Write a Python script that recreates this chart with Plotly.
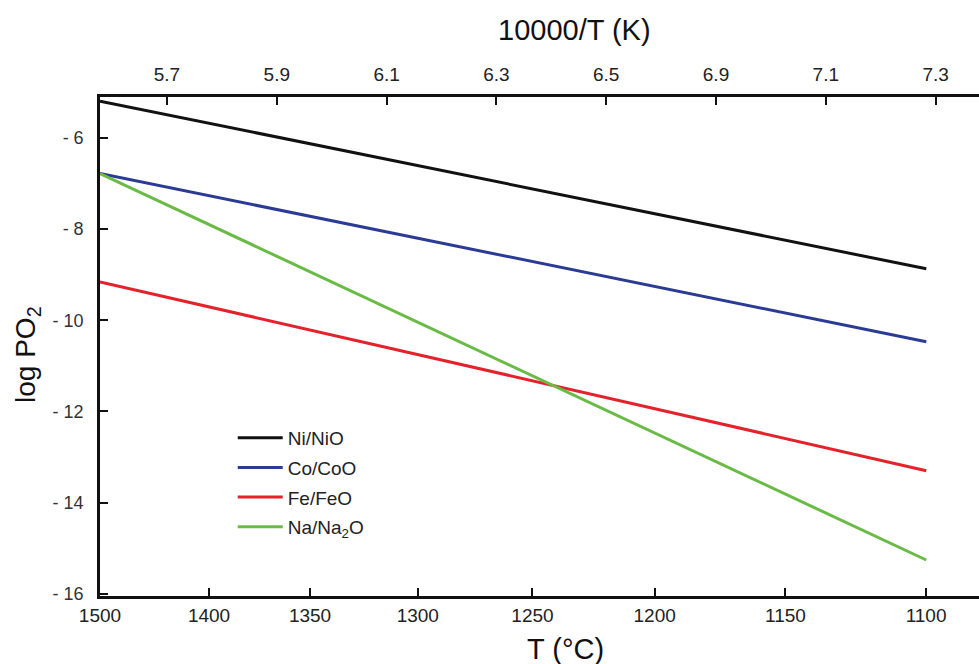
import plotly.graph_objects as go

# x coordinate: 10000/T (K); ends of the plotted lines
inv_T = [5.778, 7.283]
ni_nio = [-5.19, -8.87]
co_coo = [-6.78, -10.47]
fe_feo = [-9.16, -13.30]
na_na2o = [-6.78, -15.26]

series_names = ["Ni/NiO", "Co/CoO", "Fe/FeO", "Na/Na<sub>2</sub>O"]
series_vals = [ni_nio, co_coo, fe_feo, na_na2o]
series_colors = ["#111111", "#2b3b94", "#e3222b", "#69bb45"]

# bottom axis (T in °C) tick positions on the 10000/T scale and labels
bottom_tick_pos = [5.778, 5.9766, 6.1606, 6.3568, 6.5657, 6.7883, 7.0264, 7.2826]
bottom_tick_text = ["1500", "1400", "1350", "1300", "1250", "1200", "1150", "1100"]

# top axis ticks as printed
top_tick_pos = [5.9, 6.1, 6.3, 6.5, 6.7, 6.9, 7.1, 7.3]
top_tick_text = ["5.7", "5.9", "6.1", "6.3", "6.5", "6.9", "7.1", "7.3"]

y_tick_vals = [-6, -8, -10, -12, -14, -16]
y_tick_text = ["- 6", "- 8", "- 10", "- 12", "- 14", "- 16"]

x_range = [5.778, 7.379]
y_range = [-16.05, -5.1]

fig = go.Figure()
for i, (name, vals, col) in enumerate(zip(series_names, series_vals, series_colors)):
    fig.add_trace(go.Scatter(x=inv_T, y=vals, mode="lines", name=name,
                             line=dict(color=col, width=3), legendgroup=str(i)))
# invisible trace to anchor the top axis
fig.add_trace(go.Scatter(x=inv_T, y=ni_nio, mode="lines", xaxis="x2",
                         line=dict(color="rgba(0,0,0,0)"), showlegend=False, hoverinfo="skip"))

tick_font = dict(family="Liberation Sans Narrow, Liberation Sans, Arial", size=19, color="#222")

fig.update_layout(
    width=979, height=664,
    margin=dict(l=100, r=0, t=97, b=68),
    paper_bgcolor="white", plot_bgcolor="white",
    showlegend=True,
    legend=dict(x=0.151, y=0.355, xanchor="left", yanchor="top", itemwidth=45,
                font=dict(family="Liberation Sans, Arial", size=19, color="#222"),
                tracegroupgap=2, traceorder="grouped", bgcolor="rgba(0,0,0,0)"),
    xaxis=dict(range=x_range, tickmode="array", tickvals=bottom_tick_pos, ticktext=bottom_tick_text,
               showline=True, linecolor="#111", linewidth=2.5, ticks="inside", ticklen=8,
               tickwidth=1.5, tickcolor="#111", showgrid=False, zeroline=False,
               tickfont=tick_font, ticklabelstandoff=0),
    xaxis2=dict(range=x_range, overlaying="x", side="top", anchor="y", tickmode="array",
                tickvals=top_tick_pos, ticktext=top_tick_text,
                showline=True, linecolor="#111", linewidth=2.5, ticks="inside", ticklen=8,
                tickwidth=1.5, tickcolor="#111", showgrid=False, zeroline=False,
                tickfont=tick_font, ticklabelstandoff=6),
    yaxis=dict(range=y_range, tickmode="array", tickvals=y_tick_vals, ticktext=y_tick_text,
               showline=True, linecolor="#111", linewidth=2.5, ticks="inside", ticklen=8,
               tickwidth=1.5, tickcolor="#111", showgrid=False, zeroline=False,
               tickfont=dict(family="Liberation Sans, Arial", size=18, color="#333"),
               ticklabelstandoff=10),
)

fig.add_annotation(text="10000/T (K)", xref="paper", yref="paper", x=0.540, y=1.0,
                   yshift=67, showarrow=False, xanchor="center", yanchor="middle",
                   font=dict(family="Liberation Sans Narrow, Liberation Sans, Arial", size=29, color="#111"))
fig.add_annotation(text="T (°C)", xref="paper", yref="paper", x=0.530, y=0.0,
                   yshift=-53, showarrow=False, xanchor="center", yanchor="middle",
                   font=dict(family="Liberation Sans Narrow, Liberation Sans, Arial", size=29, color="#111"))
fig.add_annotation(text="log PO<sub>2</sub>", xref="paper", yref="paper", x=0.0, y=0.483,
                   xshift=-72, showarrow=False, textangle=-90, xanchor="center", yanchor="middle",
                   font=dict(family="Liberation Sans, Arial", size=28, color="#111"))

fig.write_html("out.html", config={"displayModeBar": False},
               post_script="document.body.style.margin='0';")
